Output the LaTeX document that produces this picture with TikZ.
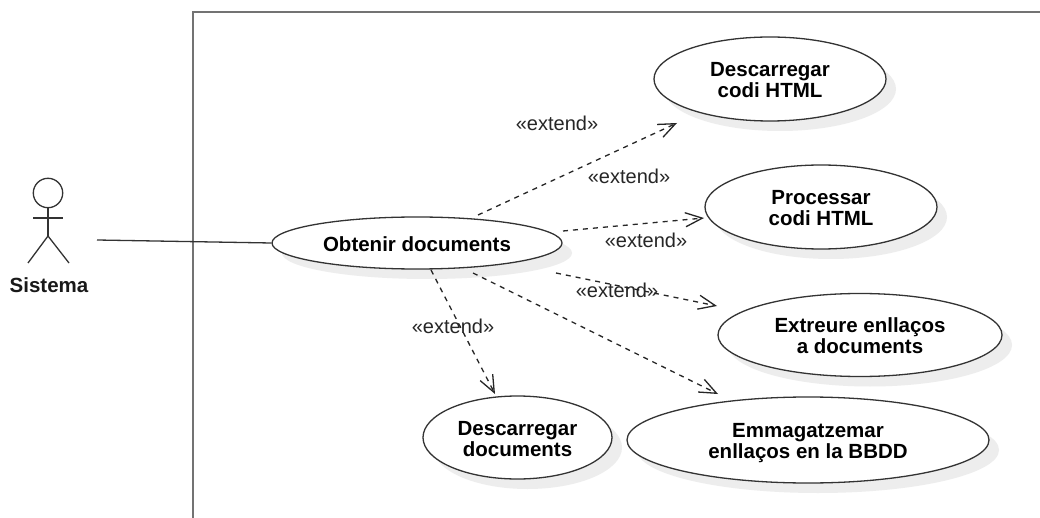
\documentclass[tikz,border=0pt]{standalone}
\usepackage{fontspec}
\setmainfont{Liberation Sans}
\usetikzlibrary{shapes.geometric,arrows.meta,shadows}
\newcommand{\raisetxt}[1]{\rule{0pt}{#1pt}}
\newcommand{\tightlines}{\lineskiplimit=-20pt\relax}
\tikzset{
  usecase/.style={ellipse,draw=black!80,line width=1.3pt,fill=white,inner sep=0pt,align=center,
    font=\fontsize{20.5}{21}\selectfont\bfseries\tightlines,
    drop shadow={shadow xshift=10pt,shadow yshift=-10pt,fill=black!7,opacity=1}},
  ext/.style={draw=black!85,line width=1.3pt,dash pattern=on 5pt off 5pt,
    -{Straight Barb[length=17pt,width=21pt,line width=1.3pt,angle'=45]}},
  extlabel/.style={font=\fontsize{20}{22}\selectfont,text=black!85,inner sep=0pt},
  stick/.style={draw=black!80,line width=1.3pt},
  frameline/.style={draw=black!55,line width=1.6pt},
}
\begin{document}
\begin{tikzpicture}[x=1pt,y=-1pt]
\useasboundingbox (0,0) rectangle (1040,518);
\fill[white] (0,0) rectangle (1040,518);
% system frame
\coordinate (fb) at (193,518);
\coordinate (ftl) at (193,12);
\coordinate (fr) at (1040,12);
\draw[frameline] (fb) -- (ftl) -- (fr);
% use cases
\node[usecase,minimum width=290pt,minimum height=52pt] (obt) at (417,243) {\raisetxt{17}Obtenir documents};
\node[usecase,minimum width=232pt,minimum height=84pt] (codi) at (770,79) {\raisetxt{17}Descarregar\\codi HTML};
\node[usecase,minimum width=232pt,minimum height=84pt] (proc) at (821,207) {\raisetxt{17}Processar\\codi HTML};
\node[usecase,minimum width=284pt,minimum height=83pt] (extr) at (860,335) {\raisetxt{17}Extreure enllaços\\a documents};
\node[usecase,minimum width=189pt,minimum height=83pt] (docs) at (517.5,437.5) {\raisetxt{18}Descarregar\\documents};
\node[usecase,minimum width=362pt,minimum height=86pt] (emma) at (808,440) {\raisetxt{20}Emmagatzemar\\enllaços en la BBDD};
% actor
\node[circle,stick,minimum size=29.4pt,inner sep=0pt] (head) at (48,193) {};
\coordinate (hip) at (48,236);
\coordinate (arml) at (33,218);
\coordinate (armr) at (63,218);
\coordinate (legl) at (28,263);
\coordinate (legr) at (69,263);
\draw[stick] (head.south) -- (hip);
\draw[stick] (arml) -- (armr);
\draw[stick] (legl) -- (hip) -- (legr);
\node[font=\fontsize{20.5}{22}\selectfont\bfseries,text=black!90,inner sep=0pt] (sistema) at (49,285) {Sistema};
% association
\coordinate (actorend) at (97,240);
\draw[stick] (actorend) -- (obt.west);
% extend connectors
\coordinate (s1) at (478,215); \coordinate (e1) at (677,123);
\coordinate (s2) at (563,231); \coordinate (e2) at (704,218);
\coordinate (s3) at (556,273); \coordinate (e3) at (717,306);
\coordinate (s4) at (473,273); \coordinate (e4) at (718,394);
\coordinate (s5) at (431,270); \coordinate (e5) at (495,394);
\draw[ext] (s1) -- (e1);
\draw[ext] (s2) -- (e2);
\draw[ext] (s3) -- (e3);
\draw[ext] (s4) -- (e4);
\draw[ext] (s5) -- (e5);
% labels
\node[extlabel] (l1) at (557,123) {«extend»};
\node[extlabel] (l2) at (629,176) {«extend»};
\node[extlabel] (l3) at (646,240) {«extend»};
\node[extlabel] (l4) at (617,290) {«extend»};
\node[extlabel] (l5) at (453,326) {«extend»};
\end{tikzpicture}
\end{document}
